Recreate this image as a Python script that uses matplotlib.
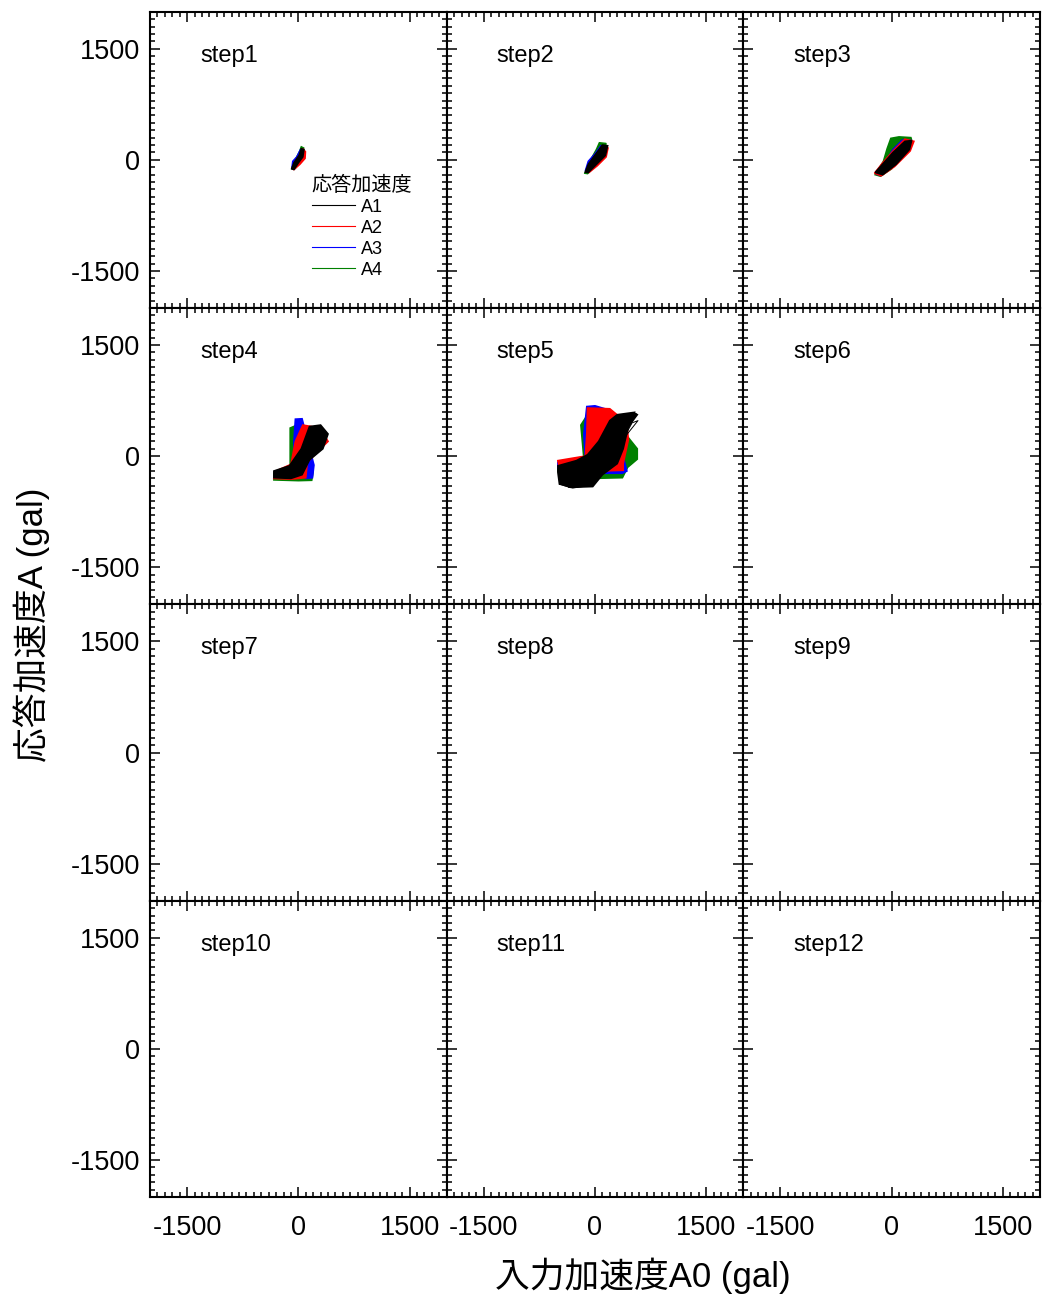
import numpy as np
import matplotlib.pyplot as plt
from matplotlib.ticker import MultipleLocator
from matplotlib.lines import Line2D

plt.rcParams['font.family'] = ['Liberation Sans', 'Noto Sans CJK JP', 'DejaVu Sans']
plt.rcParams['axes.unicode_minus'] = False

series = ['A1', 'A2', 'A3', 'A4']
colors = {'A1': 'black', 'A2': 'red', 'A3': 'blue', 'A4': 'green'}
steps = ['step%d' % i for i in range(1, 13)]

# hysteresis loop outlines, (A0, A) in gal
step1_A1 = [(-90, -120), (-60, -40), (10, 60), (40, 150), (75, 140), (60, 40), (0, -40), (-60, -130)]
step1_A2 = [(-80, -110), (-40, -20), (30, 80), (60, 150), (95, 110), (90, 20), (20, -60), (-60, -130)]
step1_A3 = [(-85, -100), (-75, -20), (-20, 40), (30, 140), (50, 120), (10, 0), (-50, -120)]
step1_A4 = [(-90, -125), (-40, 0), (20, 120), (40, 175), (70, 160), (40, 60), (-40, -110)]

step2_A1 = [(-130, -165), (-90, -60), (20, 90), (100, 200), (170, 190), (140, 60), (20, -60), (-90, -170)]
step2_A2 = [(-120, -150), (-60, -50), (40, 80), (110, 190), (175, 160), (150, 40), (30, -80), (-80, -170)]
step2_A3 = [(-130, -150), (-90, -20), (0, 80), (80, 190), (110, 170), (30, 20), (-80, -150)]
step2_A4 = [(-135, -180), (-80, -40), (20, 140), (60, 230), (150, 220), (90, 80), (-40, -120), (-100, -185)]

step3_A1 = [(-220, -170), (-140, -80), (20, 100), (180, 250), (270, 260), (240, 140), (60, -60), (-120, -200)]
step3_A2 = [(-230, -180), (-120, -40), (30, 130), (180, 280), (300, 250), (250, 120), (40, -90), (-140, -215)]
step3_A3 = [(-210, -190), (-100, -50), (20, 140), (150, 270), (270, 260), (200, 120), (20, -80), (-150, -210)]
step3_A4 = [(-220, -200), (-110, -20), (-60, 150), (-10, 290), (100, 310), (260, 300), (280, 230),
            (150, 100), (0, -120), (-150, -220)]

step4_A1 = [(-330, -290), (-330, -200), (-120, -130), (40, 100), (150, 400), (300, 420), (400, 300),
            (330, 100), (150, -50), (50, -250), (-100, -300)]
step4_A2 = [(-330, -300), (-300, -200), (-100, -110), (-40, 200), (60, 420), (180, 400), (340, 300),
            (400, 200), (300, 100), (120, -80), (100, -290), (-100, -310)]
step4_A3 = [(-40, 500), (50, 505), (210, -120), (190, -290), (100, -300), (-50, -150), (-60, 200)]
step4_A4 = [(-330, -320), (-330, -230), (-110, -130), (-110, 380), (-40, 410), (120, 400), (200, -200),
            (180, -325), (0, -330)]

step5_A1 = [(-500, -220), (-480, -370), (-330, -420), (-30, -410), (100, -250), (300, -100), (380, 100),
            (450, 400), (570, 560), (520, 590), (300, 560), (200, 480), (50, 200), (-100, 20),
            (-250, -60), (-500, -130)]
step5_A2 = [(-100, 650), (200, 640), (430, 450), (450, 220), (380, -100), (380, -190), (60, -200),
            (-480, -150), (-500, -60), (-200, -10), (-130, 0), (-110, 300)]
step5_A3 = [(-110, 670), (0, 680), (200, 620), (300, 300), (430, -200), (370, -230), (-30, -230),
            (-500, -160), (-500, -80), (-130, -60), (-150, 300)]
step5_A4 = [(-190, 420), (-150, -30), (-500, -140), (-500, -200), (-30, -300), (370, -290), (440, -150),
            (570, -40), (570, 100), (450, 250), (300, 200), (100, 500), (-100, 560)]
# a few of the looser A1 cycles in step5
step5_A1_cycles = [
    [(-480, -380), (-300, -430), (-100, -400), (150, -100), (350, 200), (560, 570), (480, 540),
     (250, 300), (0, -50), (-300, -250), (-480, -380)],
    [(-420, -300), (-250, -420), (-60, -330), (200, -60), (420, 350), (540, 600), (430, 520),
     (150, 200), (-150, -100), (-420, -300)],
    [(-350, -420), (-150, -380), (80, -180), (300, 80), (500, 450), (580, 480), (420, 280),
     (200, 0), (-50, -250), (-350, -420)],
]

loops = {
    'step1': {'A1': step1_A1, 'A2': step1_A2, 'A3': step1_A3, 'A4': step1_A4},
    'step2': {'A1': step2_A1, 'A2': step2_A2, 'A3': step2_A3, 'A4': step2_A4},
    'step3': {'A1': step3_A1, 'A2': step3_A2, 'A3': step3_A3, 'A4': step3_A4},
    'step4': {'A1': step4_A1, 'A2': step4_A2, 'A3': step4_A3, 'A4': step4_A4},
    'step5': {'A1': step5_A1, 'A2': step5_A2, 'A3': step5_A3, 'A4': step5_A4},
}

fig, axes = plt.subplots(4, 3, figsize=(10.42, 12.99), dpi=100, sharex=True, sharey=True)
fig.subplots_adjust(left=0.144, right=0.998, top=0.991, bottom=0.0785, wspace=0, hspace=0)

for ax, st in zip(axes.flat, steps):
    if st in loops:
        for s in ['A4', 'A3', 'A2', 'A1']:
            pts = np.array(loops[st][s] + [loops[st][s][0]])
            ax.fill(pts[:, 0], pts[:, 1], color=colors[s], lw=1.2)
        if st == 'step5':
            for c in step5_A1_cycles:
                c = np.array(c)
                ax.plot(c[:, 0], c[:, 1], color='black', lw=0.7)
    ax.text(0.169, 0.852, st, transform=ax.transAxes, va='center', ha='left', fontsize=17)
    ax.set_xlim(-2000, 2000)
    ax.set_ylim(-2000, 2000)
    ax.xaxis.set_major_locator(MultipleLocator(1500))
    ax.xaxis.set_minor_locator(MultipleLocator(100))
    ax.yaxis.set_major_locator(MultipleLocator(1500))
    ax.yaxis.set_minor_locator(MultipleLocator(100))
    ax.tick_params(which='both', direction='in', top=True, right=True, width=1.1)
    ax.tick_params(which='major', length=7.5, labelsize=19.5)
    ax.tick_params(which='minor', length=3.8)
    ax.tick_params(axis='x', which='major', pad=13)
    ax.tick_params(axis='y', which='major', pad=7)
    for sp in ax.spines.values():
        sp.set_linewidth(1.5)

handles = [Line2D([], [], color=colors[s], lw=0.8) for s in series]
leg = axes[0, 0].legend(handles, series, title='応答加速度', loc='upper left',
                        bbox_to_anchor=(0.545, 0.447), frameon=False, fontsize=13,
                        title_fontsize=14.5, alignment='left', borderpad=0, borderaxespad=0,
                        handlelength=2.4, handletextpad=0.35, labelspacing=0.22)

fig.text(32 / 1042, 1 - 625 / 1299, '応答加速度A (gal)', rotation=90, ha='center', va='center', fontsize=25)
fig.text(643 / 1042, 1 - 1276 / 1299, '入力加速度A0 (gal)', ha='center', va='center', fontsize=25)

fig.savefig('out.png', dpi=100)
